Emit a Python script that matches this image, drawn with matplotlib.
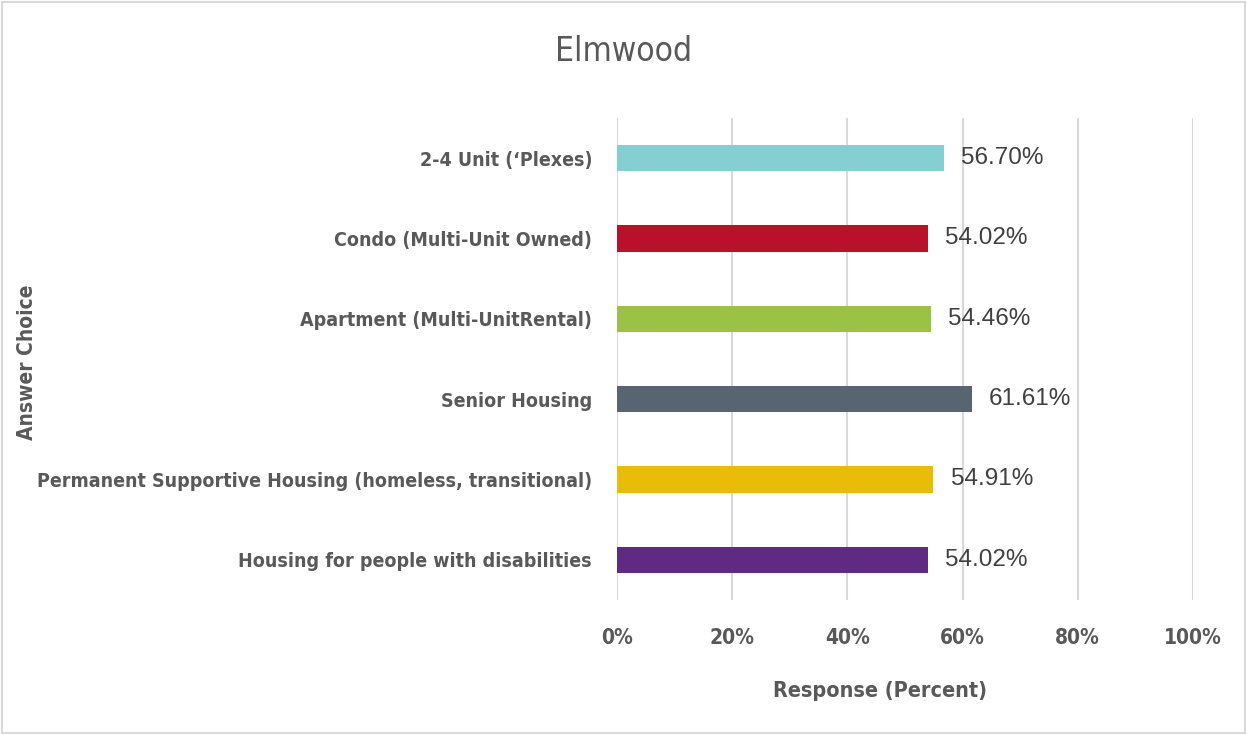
import matplotlib.pyplot as plt
from matplotlib.ticker import FuncFormatter
from matplotlib.patches import Rectangle

categories = ["Housing for people with disabilities",
              "Permanent Supportive Housing (homeless, transitional)",
              "Senior Housing",
              "Apartment (Multi-UnitRental)",
              "Condo (Multi-Unit Owned)",
              "2-4 Unit (\u2018Plexes)"]
values = [54.02, 54.91, 61.61, 54.46, 54.02, 56.70]
colors = ["#5E2A84", "#E9BC07", "#576571", "#9BC244", "#BA112B", "#85CFD2"]

plt.rcParams['font.family'] = ['DejaVu Sans']
plt.rcParams['font.stretch'] = 'condensed'

fig = plt.figure(figsize=(12.47, 7.35), dpi=100)
ax = fig.add_axes([0.4948, 0.1837, 0.4619, 0.6558])

ypos = range(len(categories))
ax.barh(ypos, values, height=0.33, color=colors, zorder=3)
for y, v in zip(ypos, values):
    ax.text(v + 3.0, y, f"{v:.2f}%", va="center", ha="left",
            fontsize=17.5, color="#404040", fontstretch="normal",
            family="Liberation Sans")

ax.set_xlim(0, 100)
ax.set_ylim(-0.5, len(categories) - 0.5)
ax.set_xticks(range(0, 101, 20))
ax.xaxis.set_major_formatter(FuncFormatter(lambda x, p: f"{x:.0f}%"))
ax.set_yticks(list(ypos))
ax.set_yticklabels(categories, fontsize=14, color="#595959", fontweight="bold")
ax.tick_params(axis="x", labelsize=15, labelcolor="#595959", length=0, pad=20)
for t in ax.get_xticklabels():
    t.set_fontweight("bold")
ax.tick_params(axis="y", length=0, pad=18)
ax.grid(axis="x", color="#D9D9D9", linewidth=1.5, zorder=0)
for s in ax.spines.values():
    s.set_visible(False)

ax.set_xlabel("Response (Percent)", fontsize=15.5, color="#595959",
              fontweight="bold")
ax.xaxis.set_label_coords(0.457, -0.168)
fig.text(0.022, 0.5075, "Answer Choice", rotation=90, va="center", ha="center",
         fontsize=15, color="#595959", fontweight="bold")
fig.text(0.5, 0.93, "Elmwood", ha="center", va="center", fontsize=24,
         color="#595959")

fig.patches.append(Rectangle((0.002, 0.003), 0.996, 0.994, transform=fig.transFigure,
                             fill=False, edgecolor="#D9D9D9", linewidth=1.5))

fig.savefig("out.png", dpi=100)
